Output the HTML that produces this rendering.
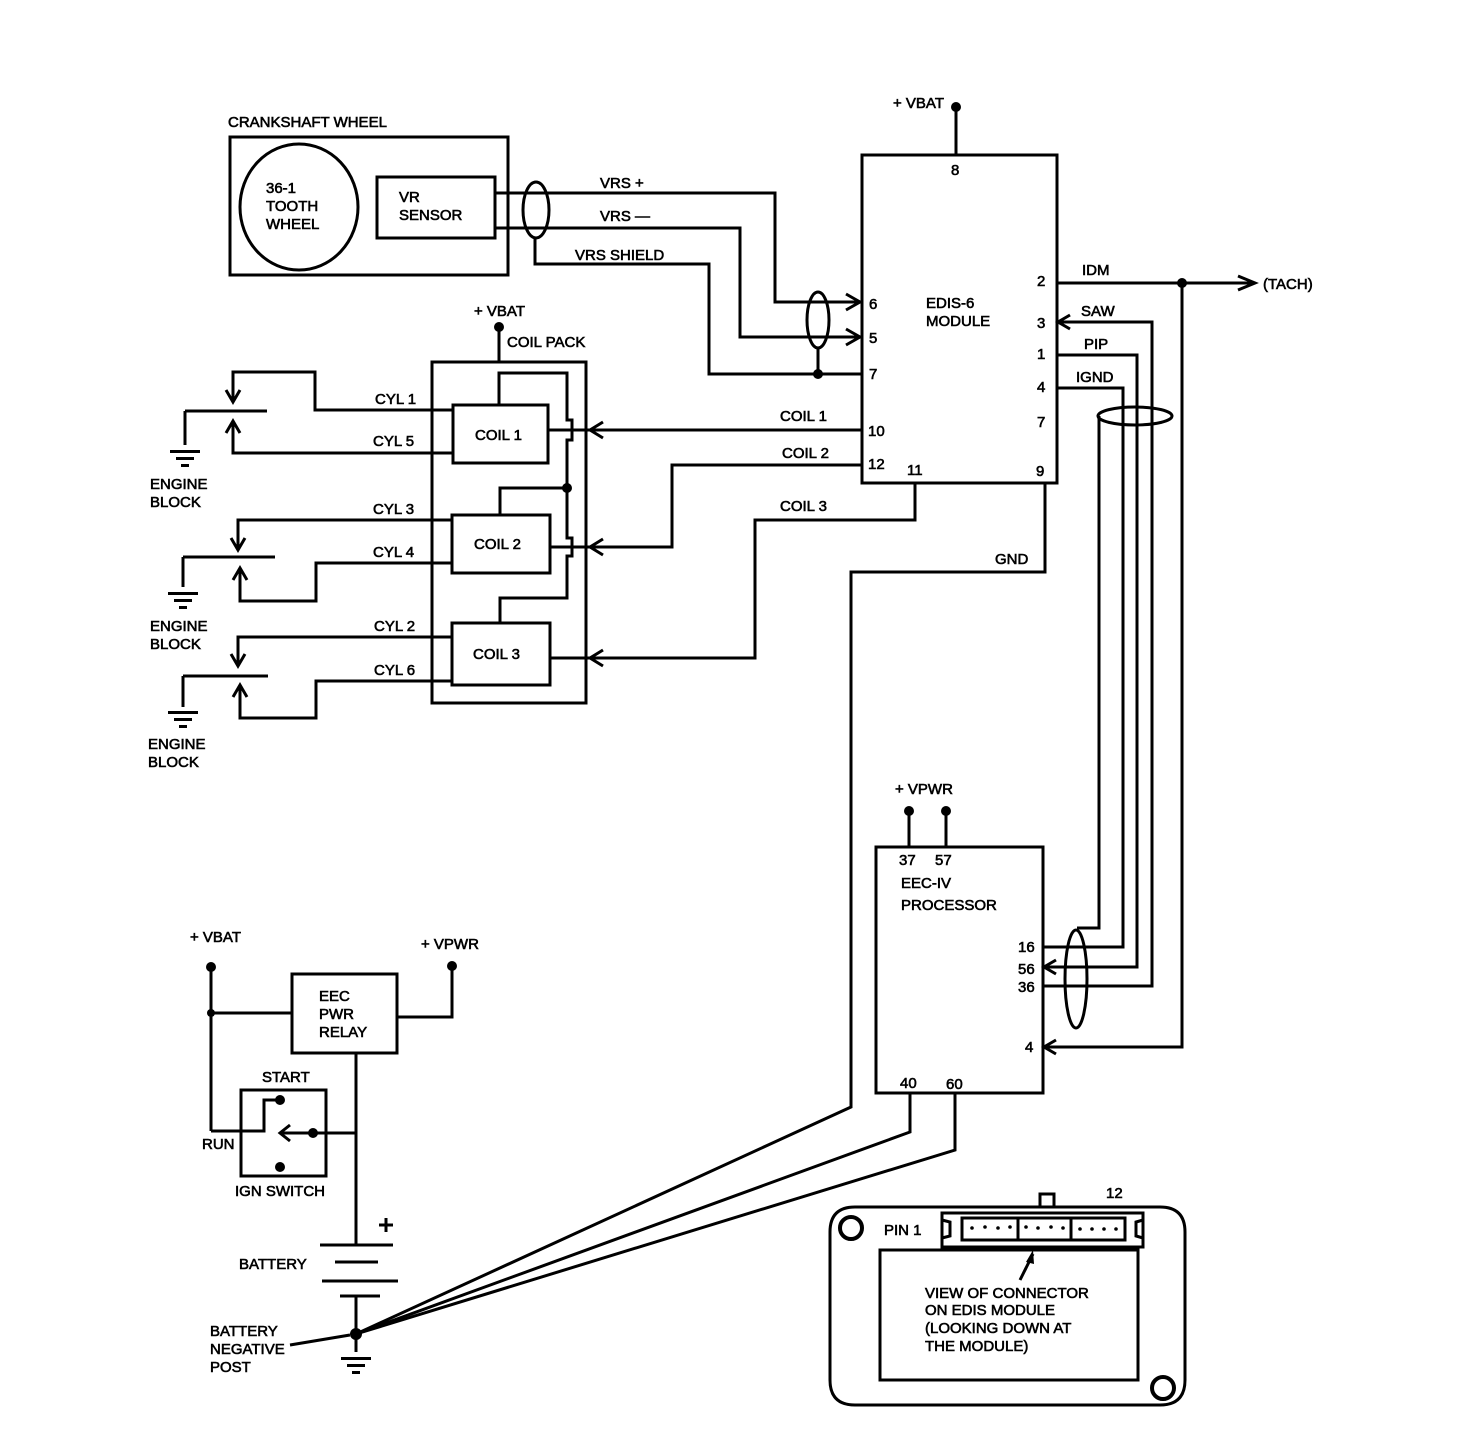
<!DOCTYPE html>
<html><head><style>
html,body{margin:0;padding:0;background:#fff;}
svg{display:block;}
text{font-family:"Liberation Sans",sans-serif;font-size:15px;fill:#000;stroke:#000;stroke-width:0.6;}
</style></head><body>
<svg width="1472" height="1446" viewBox="0 0 1472 1446" xmlns="http://www.w3.org/2000/svg">
<g fill="none" stroke="#000" stroke-width="3" stroke-linejoin="miter">
<rect x="230" y="137" width="278" height="138"/>
<ellipse cx="299" cy="207" rx="59" ry="63"/>
<rect x="377" y="177" width="118" height="61"/>
<ellipse cx="536" cy="210" rx="13" ry="28"/>
<polyline points="495,193 775,193 775,302 858,302"/>
<polyline points="495,228 740,228 740,337 858,337"/>
<polyline points="535,238 535,264 709,264 709,374 862,374"/>
<ellipse cx="818" cy="320" rx="11" ry="28"/>
<line x1="818" y1="348" x2="818" y2="374"/>
<polyline points="846,294 860,302 846,310"/>
<polyline points="846,329 860,337 846,345"/>
<rect x="862" y="155" width="195" height="328"/>
<line x1="956" y1="107" x2="956" y2="155"/>
<polyline points="1057,283 1253,283"/>
<polyline points="1238,276 1255,283 1238,290"/>
<polyline points="1182,283 1182,1047 1043,1047"/>
<polyline points="1056,1040 1044,1047 1056,1054"/>
<polyline points="1057,322 1152,322 1152,986 1043,986"/>
<polyline points="1070,315 1058,322 1070,329"/>
<polyline points="1057,355 1137,355 1137,967 1043,967"/>
<polyline points="1056,960 1044,967 1056,974"/>
<polyline points="1057,388 1123,388 1123,947 1043,947"/>
<ellipse cx="1135" cy="416" rx="37" ry="9"/>
<polyline points="1099,416 1099,928 1077,928"/>
<ellipse cx="1076" cy="979" rx="11" ry="49"/>
<polyline points="862,430 590,430"/>
<polyline points="862,465 672,465 672,547 590,547"/>
<polyline points="915,483 915,520 755,520 755,658 590,658"/>
<polyline points="603,422 590,430 603,438"/>
<polyline points="603,539 590,547 603,555"/>
<polyline points="603,650 590,658 603,666"/>
<polyline points="1045,483 1045,572 851,572 851,1107 356,1334"/>
<rect x="432" y="362" width="154" height="341"/>
<line x1="499" y1="327" x2="499" y2="362"/>
<rect x="453" y="405" width="95" height="58"/>
<rect x="452" y="515" width="98" height="58"/>
<rect x="452" y="623" width="98" height="62"/>
<polyline points="548,430 590,430"/>
<polyline points="550,547 590,547"/>
<polyline points="550,658 590,658"/>
<polyline points="499,405 499,373 567,373 567,420 572,420 572,440 567,440 567,538 572,538 572,556 567,556 567,598 500,598 500,623"/>
<polyline points="567,488 500,488 500,515"/>
<polyline points="453,410 315,410 315,372 233,372 233,400"/>
<polyline points="226,390 233,402 240,390"/>
<line x1="185" y1="411" x2="267" y2="411"/>
<line x1="185" y1="411" x2="185" y2="445"/>
<polyline points="453,453 233,453 233,423"/>
<polyline points="226,433 233,421 240,433"/>
<polyline points="452,520 238,520 238,548"/>
<polyline points="231,538 238,550 245,538"/>
<line x1="183" y1="557" x2="275" y2="557"/>
<line x1="183" y1="557" x2="183" y2="587"/>
<polyline points="452,563 316,563 316,601 240,601 240,570"/>
<polyline points="233,580 240,568 247,580"/>
<polyline points="452,637 238,637 238,664"/>
<polyline points="231,654 238,666 245,654"/>
<line x1="183" y1="676" x2="268" y2="676"/>
<line x1="183" y1="676" x2="183" y2="707"/>
<polyline points="452,681 316,681 316,718 240,718 240,687"/>
<polyline points="233,697 240,685 247,697"/>
<rect x="876" y="847" width="167" height="246"/>
<line x1="909" y1="811" x2="909" y2="847"/>
<line x1="946" y1="811" x2="946" y2="847"/>
<polyline points="910,1093 910,1132 356,1334"/>
<polyline points="955,1093 955,1150 356,1334"/>
<line x1="211" y1="967" x2="211" y2="1131"/>
<polyline points="211,1131 264,1131 264,1100 280,1100"/>
<line x1="211" y1="1013" x2="292" y2="1013"/>
<rect x="292" y="974" width="105" height="79"/>
<polyline points="397,1017 452,1017 452,966"/>
<line x1="356" y1="1053" x2="356" y2="1245"/>
<rect x="241" y="1090" width="85" height="86"/>
<line x1="282" y1="1133" x2="356" y2="1133"/>
<polyline points="290,1125 280,1133 290,1141"/>
<line x1="320" y1="1245" x2="393" y2="1245"/>
<line x1="335" y1="1262" x2="378" y2="1262"/>
<line x1="322" y1="1281" x2="398" y2="1281"/>
<line x1="340" y1="1296" x2="380" y2="1296"/>
<line x1="356" y1="1296" x2="356" y2="1352"/>
<line x1="290" y1="1345" x2="350" y2="1335"/>
<line x1="386" y1="1218" x2="386" y2="1232"/><line x1="379" y1="1225" x2="393" y2="1225"/>
<path d="M855,1207 H1160 Q1185,1207 1185,1232 V1380 Q1185,1405 1160,1405 H855 Q830,1405 830,1380 V1232 Q830,1207 855,1207 Z"/>
<rect x="880" y="1250" width="258" height="130"/>
<circle cx="851" cy="1228" r="11" stroke-width="4"/>
<circle cx="1163" cy="1388" r="11" stroke-width="4"/>
<path d="M942,1213 H1143 V1247 H942 Z"/>
<polyline points="942,1220 950,1222 950,1236 942,1238"/>
<polyline points="1143,1220 1136,1222 1136,1236 1143,1238"/>
<rect x="962" y="1218" width="163" height="22"/>
<line x1="1018" y1="1218" x2="1018" y2="1240"/>
<line x1="1071" y1="1218" x2="1071" y2="1240"/>
<rect x="1040" y="1194" width="14" height="13"/>
<line x1="1020" y1="1280" x2="1033" y2="1254"/>
</g>
<g fill="#000">
<circle cx="956" cy="107" r="5"/>
<circle cx="818" cy="374" r="5"/>
<circle cx="1182" cy="283" r="5"/>
<circle cx="499" cy="327" r="5"/>
<circle cx="567" cy="488" r="5"/>
<circle cx="909" cy="811" r="5"/>
<circle cx="946" cy="811" r="5"/>
<circle cx="211" cy="967" r="5"/>
<circle cx="452" cy="966" r="5"/>
<circle cx="211" cy="1013" r="4"/>
<circle cx="280" cy="1100" r="5"/>
<circle cx="313" cy="1133" r="5"/>
<circle cx="280" cy="1167" r="5"/>
<circle cx="356" cy="1334" r="6"/>
<polygon points="1033,1250 1026,1262 1034,1264"/>
<circle cx="972" cy="1228" r="1.8"/><circle cx="985" cy="1227" r="1.8"/><circle cx="998" cy="1228" r="1.8"/><circle cx="1010" cy="1227" r="1.8"/>
<circle cx="1026" cy="1227" r="1.8"/><circle cx="1038" cy="1228" r="1.8"/><circle cx="1051" cy="1227" r="1.8"/><circle cx="1063" cy="1228" r="1.8"/>
<circle cx="1080" cy="1229" r="1.8"/><circle cx="1092" cy="1229" r="1.8"/><circle cx="1104" cy="1229" r="1.8"/><circle cx="1116" cy="1229" r="1.8"/>
<rect x="170" y="450" width="30" height="3"/><rect x="176" y="457" width="18" height="3"/><rect x="181" y="464" width="8" height="3"/>
<rect x="168" y="592" width="30" height="3"/><rect x="174" y="599" width="18" height="3"/><rect x="179" y="606" width="8" height="3"/>
<rect x="168" y="711" width="30" height="3"/><rect x="174" y="718" width="18" height="3"/><rect x="179" y="725" width="8" height="3"/>
<rect x="341" y="1357" width="30" height="3"/><rect x="347" y="1364" width="18" height="3"/><rect x="352" y="1371" width="8" height="3"/>
</g>
<g>
<text x="228" y="127">CRANKSHAFT WHEEL</text>
<text x="266" y="193">36-1</text><text x="266" y="211">TOOTH</text><text x="266" y="229">WHEEL</text>
<text x="399" y="202">VR</text><text x="399" y="220">SENSOR</text>
<text x="600" y="188">VRS +</text>
<text x="600" y="221">VRS —</text>
<text x="575" y="260">VRS SHIELD</text>
<text x="893" y="108">+ VBAT</text>
<text x="951" y="175">8</text>
<text x="869" y="309">6</text><text x="869" y="343">5</text><text x="869" y="379">7</text>
<text x="868" y="436">10</text><text x="868" y="469">12</text><text x="907" y="475">11</text>
<text x="1036" y="476">9</text>
<text x="1037" y="286">2</text><text x="1037" y="328">3</text><text x="1037" y="359">1</text><text x="1037" y="392">4</text><text x="1037" y="427">7</text>
<text x="926" y="308">EDIS-6</text><text x="926" y="326">MODULE</text>
<text x="1082" y="275">IDM</text><text x="1081" y="316">SAW</text><text x="1084" y="349">PIP</text><text x="1076" y="382">IGND</text>
<text x="1263" y="289">(TACH)</text>
<text x="780" y="421">COIL 1</text><text x="782" y="458">COIL 2</text><text x="780" y="511">COIL 3</text>
<text x="995" y="564">GND</text>
<text x="474" y="316">+ VBAT</text><text x="507" y="347">COIL PACK</text>
<text x="475" y="440">COIL 1</text><text x="474" y="549">COIL 2</text><text x="473" y="659">COIL 3</text>
<text x="375" y="404">CYL 1</text><text x="373" y="446">CYL 5</text>
<text x="373" y="514">CYL 3</text><text x="373" y="557">CYL 4</text>
<text x="374" y="631">CYL 2</text><text x="374" y="675">CYL 6</text>
<text x="150" y="489">ENGINE</text><text x="150" y="507">BLOCK</text>
<text x="150" y="631">ENGINE</text><text x="150" y="649">BLOCK</text>
<text x="148" y="749">ENGINE</text><text x="148" y="767">BLOCK</text>
<text x="895" y="794">+ VPWR</text>
<text x="899" y="865">37</text><text x="935" y="865">57</text>
<text x="901" y="888">EEC-IV</text><text x="901" y="910">PROCESSOR</text>
<text x="1018" y="952">16</text><text x="1018" y="974">56</text><text x="1018" y="992">36</text><text x="1025" y="1052">4</text>
<text x="900" y="1088">40</text><text x="946" y="1089">60</text>
<text x="190" y="942">+ VBAT</text><text x="421" y="949">+ VPWR</text>
<text x="319" y="1001">EEC</text><text x="319" y="1019">PWR</text><text x="319" y="1037">RELAY</text>
<text x="262" y="1082">START</text><text x="202" y="1149">RUN</text><text x="235" y="1196">IGN SWITCH</text>
<text x="239" y="1269">BATTERY</text>
<text x="210" y="1336">BATTERY</text><text x="210" y="1354">NEGATIVE</text><text x="210" y="1372">POST</text>
<text x="1106" y="1198">12</text><text x="884" y="1235">PIN 1</text>
<text x="925" y="1298">VIEW OF CONNECTOR</text><text x="925" y="1315">ON EDIS MODULE</text>
<text x="925" y="1333">(LOOKING DOWN AT</text><text x="925" y="1351">THE MODULE)</text>
</g>
</svg>
</body></html>
